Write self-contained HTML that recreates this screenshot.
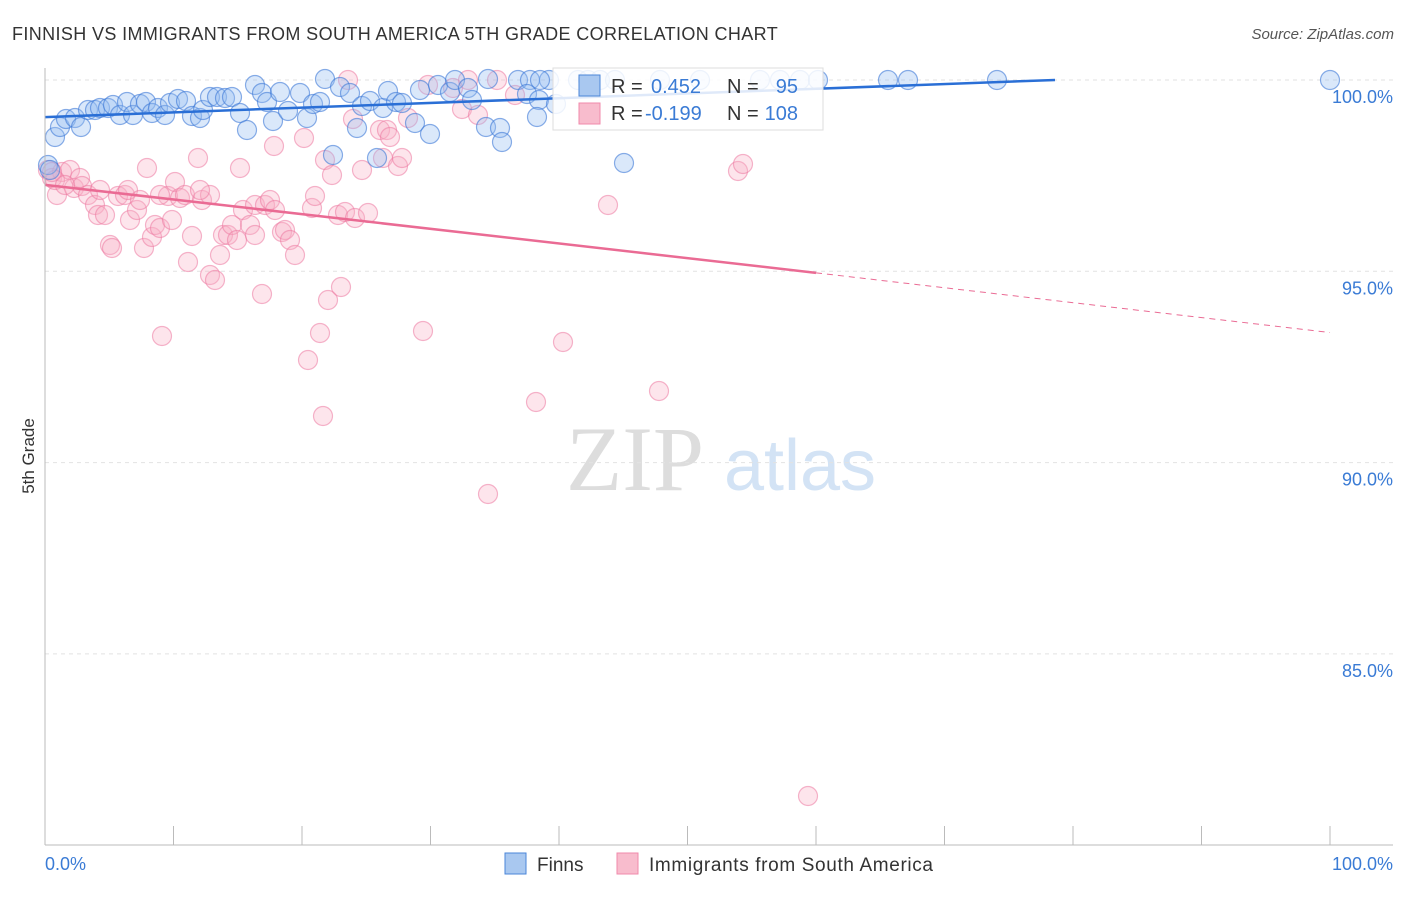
<!DOCTYPE html>
<html><head><meta charset="utf-8"><style>
body{margin:0;background:#fff;font-family:"Liberation Sans",sans-serif;}
</style></head><body>
<svg id="c" width="1406" height="892" xmlns="http://www.w3.org/2000/svg">
<text x="12" y="40" font-size="18" letter-spacing="0.3" fill="#333" textLength="766">FINNISH VS IMMIGRANTS FROM SOUTH AMERICA 5TH GRADE CORRELATION CHART</text>
<text x="1394" y="39" font-size="15" fill="#555" font-style="italic" text-anchor="end">Source: ZipAtlas.com</text>
<text x="34" y="456" font-size="17" fill="#333" transform="rotate(-90 34 456)" text-anchor="middle">5th Grade</text>
<g><text x="635" y="490" font-size="92" fill="#ddd" font-family="Liberation Serif,serif" text-anchor="middle">ZIP</text><text x="800" y="490" font-size="72" fill="#d3e3f5" text-anchor="middle">atlas</text></g>
<g id="grid"></g><g id="pts"></g><g id="lines"></g>
<line x1="45" y1="68" x2="45" y2="845" stroke="#bbb"/>
<line x1="45" y1="845" x2="1393" y2="845" stroke="#bbb"/>
<text x="45" y="870" font-size="18" fill="#3a7bd5">0.0%</text>
<text x="1393" y="870" font-size="18" fill="#3a7bd5" text-anchor="end">100.0%</text>
<g>
<rect x="553" y="68" width="270" height="62" fill="#fff" fill-opacity="0.85" stroke="#ddd"/>
<rect x="579" y="75" width="21" height="21" fill="#a9c8f0" stroke="#4a86d8"/>
<rect x="579" y="103" width="21" height="21" fill="#f8bccd" stroke="#f08aab"/>
<text x="611" y="93" font-size="20" fill="#333">R =</text>
<text x="651" y="93" font-size="20" fill="#3a7bd5">0.452</text>
<text x="727" y="93" font-size="20" fill="#333">N =</text>
<text x="798" y="93" font-size="20" fill="#3a7bd5" text-anchor="end">95</text>
<text x="611" y="120" font-size="20" fill="#333">R =</text>
<text x="645" y="120" font-size="20" fill="#3a7bd5">-0.199</text>
<text x="727" y="120" font-size="20" fill="#333">N =</text>
<text x="798" y="120" font-size="20" fill="#3a7bd5" text-anchor="end">108</text>
</g>
<g>
<rect x="505" y="853" width="21" height="21" fill="#a9c8f0" stroke="#4a86d8"/>
<text x="537" y="871" font-size="19" fill="#333">Finns</text>
<rect x="617" y="853" width="21" height="21" fill="#f8bccd" stroke="#f08aab"/>
<text x="649" y="871" font-size="19" fill="#333" textLength="284">Immigrants from South America</text>
</g>
</svg>
<script>
const yTicks=[100,95,90,85];
const xTicks=[0,10,20,30,40,50,60,70,80,90,100];
const bluePx=[[55,137],[60,127],[66,119],[75,118],[81,127],[88,110],[95,110],[100,108],[108,108],[113,105],[120,115],[127,102],[133,115],[140,104],[146,102],[152,113],[158,108],[165,115],[170,103],[178,99],[186,101],[192,116],[200,118],[203,110],[210,97],[217,97],[225,98],[232,97],[240,113],[247,130],[255,85],[262,93],[267,102],[273,121],[280,92],[288,111],[300,93],[307,118],[313,104],[320,102],[325,79],[333,155],[340,87],[350,93],[357,128],[362,106],[370,101],[377,158],[383,108],[388,91],[396,102],[402,103],[415,123],[420,90],[430,134],[438,85],[450,92],[455,80],[468,88],[472,100],[488,79],[486,127],[500,128],[502,142],[518,80],[530,80],[527,94],[539,100],[537,117],[549,80],[556,104],[578,80],[588,80],[600,80],[615,80],[624,163],[660,80],[700,80],[760,80],[780,80],[800,80],[818,80],[888,80],[908,80],[997,80],[1330,80],[540,80],[48,165],[50,170]];
const pinkPx=[[48,170],[52,178],[57,195],[62,172],[70,170],[74,188],[80,178],[82,186],[88,195],[95,205],[98,215],[105,215],[110,245],[112,248],[118,196],[125,195],[128,190],[130,220],[137,210],[140,200],[144,248],[147,168],[152,237],[155,225],[160,228],[162,336],[168,196],[172,220],[175,182],[180,198],[185,195],[188,262],[192,236],[198,158],[202,200],[210,195],[210,275],[215,280],[220,255],[223,235],[228,235],[232,225],[237,240],[240,168],[243,210],[250,225],[255,205],[255,235],[262,294],[265,205],[270,200],[274,146],[275,210],[282,232],[285,230],[290,240],[295,255],[304,138],[308,360],[312,208],[315,196],[320,333],[323,416],[325,160],[328,300],[332,175],[338,215],[341,287],[345,212],[355,218],[348,80],[353,119],[362,170],[368,213],[380,130],[383,158],[387,130],[390,137],[398,166],[402,158],[408,118],[423,331],[428,85],[453,88],[462,109],[468,80],[478,115],[488,494],[497,80],[515,95],[536,402],[563,342],[608,205],[659,391],[738,171],[743,164],[808,796],[55,180],[65,185],[100,190],[160,195],[200,190],[52,172]];
// convert estimated pixel readings to data values
const toX=p=>(p-45)/12.85, toY=p=>100-(p-80)/38.26;
const blueX=bluePx.map(d=>toX(d[0])), blueY=bluePx.map(d=>toY(d[1]));
const pinkX=pinkPx.map(d=>toX(d[0])), pinkY=pinkPx.map(d=>toY(d[1]));
const blueTrend=[[0,99.03],[78.6,100]];
const pinkTrend=[[0,97.26],[60,94.96],[100,93.4]];
const sx=v=>45+v*12.85, sy=v=>80+(100-v)*38.26;
const NS="http://www.w3.org/2000/svg";
function mk(t,a,p){const e=document.createElementNS(NS,t);for(const k in a)e.setAttribute(k,a[k]);p.appendChild(e);return e;}
const grid=document.getElementById('grid');
yTicks.forEach(v=>{
 const l=mk('line',{x1:45,x2:1393,y1:sy(v),y2:sy(v),stroke:'#e2e2e2','stroke-dasharray':'4,4'},grid);
 
 
 const t=mk('text',{x:1393,y:sy(v)+23,'font-size':18,fill:'#3a7bd5','text-anchor':'end'},grid);
 t.textContent=v.toFixed(1)+'%';
 
 
});
xTicks.forEach(v=>{
 const l=mk('line',{x1:sx(v),x2:sx(v),y1:826,y2:845,stroke:'#bbb'},grid);
 
 
});
const pts=document.getElementById('pts');
pinkX.forEach((x,i)=>{
 const c=mk('circle',{cx:sx(x),cy:sy(pinkY[i]),r:9.5,fill:'rgba(248,175,198,0.33)',stroke:'rgba(236,120,160,0.55)','stroke-width':1.2},pts);
 
 
});
blueX.forEach((x,i)=>{
 const c=mk('circle',{cx:sx(x),cy:sy(blueY[i]),r:9.5,fill:'rgba(150,188,240,0.35)',stroke:'rgba(60,120,215,0.6)','stroke-width':1.2},pts);
 
 
});
const lines=document.getElementById('lines');
let b=mk('line',{x1:sx(blueTrend[0][0]),y1:sy(blueTrend[0][1]),x2:sx(blueTrend[1][0]),y2:sy(blueTrend[1][1]),stroke:'#2a6fd6','stroke-width':2.5},lines);


let p1=mk('line',{x1:sx(pinkTrend[0][0]),y1:sy(pinkTrend[0][1]),x2:sx(pinkTrend[1][0]),y2:sy(pinkTrend[1][1]),stroke:'#ea6b94','stroke-width':2.5},lines);


let p2=mk('line',{x1:sx(pinkTrend[1][0]),y1:sy(pinkTrend[1][1]),x2:sx(pinkTrend[2][0]),y2:sy(pinkTrend[2][1]),stroke:'#ea6b94','stroke-width':1,'stroke-dasharray':'6,5'},lines);


</script>
</body></html>
